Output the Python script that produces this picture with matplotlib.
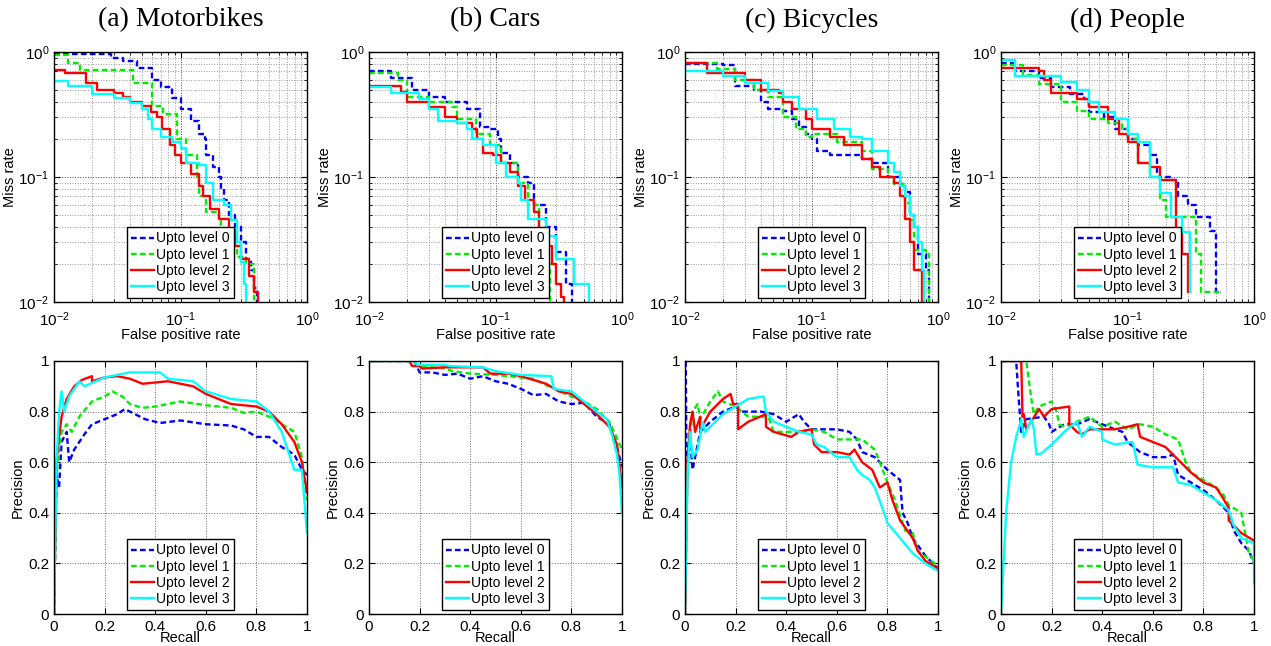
import matplotlib
matplotlib.use("Agg")
import matplotlib.pyplot as plt
from matplotlib.ticker import LogLocator, NullFormatter, FormatStrFormatter, MultipleLocator

plt.rcParams["font.family"] = ["Liberation Sans", "DejaVu Sans"]
plt.rcParams["mathtext.default"] = "regular"
plt.rcParams["axes.unicode_minus"] = False

TITLES = ["(a) Motorbikes", "(b) Cars", "(c) Bicycles", "(d) People"]
LEVELS = ["Upto level 0", "Upto level 1", "Upto level 2", "Upto level 3"]
COLORS = ["#0000ff", "#00ee00", "#ff0000", "#00ffff"]
DASHED = [True, True, False, False]

# DET curves: (false positive rate, miss rate)
mb_det_0 = [(0.01, 0.97), (0.022, 0.96), (0.028, 0.90), (0.035, 0.85), (0.045, 0.75), (0.06, 0.60),
            (0.07, 0.52), (0.085, 0.43), (0.1, 0.35), (0.12, 0.28), (0.14, 0.22), (0.155, 0.20),
            (0.16, 0.15), (0.18, 0.12), (0.2, 0.10), (0.21, 0.08), (0.22, 0.065), (0.24, 0.05),
            (0.27, 0.04), (0.3, 0.03), (0.33, 0.022), (0.36, 0.018), (0.38, 0.013), (0.4, 0.01)]
mb_det_1 = [(0.01, 0.95), (0.013, 0.82), (0.016, 0.72), (0.035, 0.72), (0.042, 0.57), (0.06, 0.37),
            (0.073, 0.32), (0.093, 0.20), (0.11, 0.15), (0.134, 0.10), (0.14, 0.07), (0.16, 0.052),
            (0.2, 0.045), (0.21, 0.028), (0.28, 0.023), (0.33, 0.02), (0.38, 0.01)]
mb_det_2 = [(0.01, 0.72), (0.0122, 0.68), (0.018, 0.57), (0.022, 0.50), (0.03, 0.47), (0.035, 0.44),
            (0.04, 0.40), (0.05, 0.37), (0.058, 0.33), (0.065, 0.30), (0.072, 0.24), (0.083, 0.18),
            (0.09, 0.15), (0.1, 0.13), (0.12, 0.105), (0.14, 0.085), (0.15, 0.07), (0.17, 0.055),
            (0.2, 0.046), (0.24, 0.038), (0.27, 0.028), (0.3, 0.022), (0.35, 0.016), (0.38, 0.012),
            (0.41, 0.01)]
mb_det_3 = [(0.01, 0.59), (0.013, 0.53), (0.02, 0.46), (0.03, 0.43), (0.04, 0.39), (0.05, 0.35),
            (0.055, 0.29), (0.06, 0.24), (0.07, 0.21), (0.085, 0.19), (0.1, 0.17), (0.11, 0.13),
            (0.14, 0.125), (0.16, 0.09), (0.18, 0.065), (0.22, 0.06), (0.25, 0.045), (0.28, 0.03),
            (0.3, 0.021), (0.32, 0.014), (0.33, 0.01)]

car_det_0 = [(0.01, 0.70), (0.015, 0.62), (0.022, 0.50), (0.03, 0.44), (0.04, 0.40), (0.06, 0.35),
             (0.075, 0.25), (0.09, 0.24), (0.105, 0.20), (0.11, 0.155), (0.13, 0.13), (0.15, 0.10),
             (0.18, 0.09), (0.2, 0.06), (0.25, 0.04), (0.3, 0.025), (0.36, 0.014), (0.4, 0.01)]
car_det_1 = [(0.01, 0.68), (0.017, 0.60), (0.02, 0.44), (0.03, 0.40), (0.045, 0.36), (0.05, 0.29),
             (0.07, 0.22), (0.09, 0.18), (0.11, 0.13), (0.15, 0.09), (0.18, 0.06), (0.22, 0.038),
             (0.25, 0.02), (0.27, 0.01)]
car_det_2 = [(0.01, 0.53), (0.018, 0.48), (0.02, 0.40), (0.03, 0.36), (0.04, 0.30), (0.05, 0.27),
             (0.065, 0.24), (0.072, 0.20), (0.08, 0.155), (0.095, 0.15), (0.11, 0.13), (0.13, 0.11),
             (0.15, 0.085), (0.17, 0.065), (0.2, 0.052), (0.22, 0.038), (0.24, 0.028), (0.28, 0.02),
             (0.3, 0.014), (0.33, 0.011), (0.35, 0.01)]
car_det_3 = [(0.01, 0.52), (0.015, 0.47), (0.025, 0.42), (0.03, 0.35), (0.035, 0.28), (0.05, 0.27),
             (0.06, 0.24), (0.065, 0.20), (0.08, 0.18), (0.1, 0.13), (0.12, 0.10), (0.15, 0.09),
             (0.16, 0.065), (0.18, 0.046), (0.25, 0.034), (0.3, 0.022), (0.42, 0.014), (0.55, 0.01)]

bic_det_0 = [(0.01, 0.80), (0.02, 0.78), (0.025, 0.53), (0.035, 0.50), (0.04, 0.40), (0.045, 0.35),
             (0.06, 0.34), (0.07, 0.29), (0.08, 0.25), (0.09, 0.22), (0.1, 0.20), (0.11, 0.16),
             (0.14, 0.15), (0.22, 0.15), (0.25, 0.14), (0.3, 0.13), (0.4, 0.10), (0.5, 0.088),
             (0.55, 0.076), (0.6, 0.05), (0.65, 0.04), (0.7, 0.024), (0.8, 0.018), (0.85, 0.01)]
bic_det_1 = [(0.01, 0.82), (0.018, 0.73), (0.025, 0.60), (0.035, 0.50), (0.045, 0.44), (0.06, 0.30),
             (0.075, 0.24), (0.09, 0.21), (0.1, 0.22), (0.14, 0.22), (0.16, 0.19), (0.25, 0.16),
             (0.3, 0.115), (0.4, 0.10), (0.45, 0.088), (0.55, 0.062), (0.6, 0.045), (0.65, 0.026),
             (0.8, 0.024), (0.85, 0.01)]
bic_det_2 = [(0.01, 0.81), (0.015, 0.68), (0.03, 0.60), (0.04, 0.50), (0.055, 0.47), (0.06, 0.40),
             (0.07, 0.35), (0.09, 0.29), (0.1, 0.24), (0.14, 0.21), (0.18, 0.18), (0.25, 0.14),
             (0.3, 0.12), (0.35, 0.10), (0.45, 0.09), (0.5, 0.07), (0.55, 0.046), (0.6, 0.03),
             (0.65, 0.018), (0.75, 0.01)]
bic_det_3 = [(0.01, 0.70), (0.02, 0.64), (0.03, 0.57), (0.045, 0.49), (0.06, 0.44), (0.08, 0.35),
             (0.11, 0.29), (0.15, 0.24), (0.2, 0.21), (0.25, 0.20), (0.3, 0.16), (0.4, 0.13),
             (0.45, 0.11), (0.5, 0.085), (0.55, 0.07), (0.6, 0.05), (0.65, 0.04), (0.7, 0.03),
             (0.75, 0.018), (0.78, 0.01)]

ppl_det_0 = [(0.01, 0.82), (0.013, 0.70), (0.02, 0.62), (0.025, 0.52), (0.035, 0.46), (0.045, 0.42),
             (0.05, 0.33), (0.065, 0.30), (0.08, 0.24), (0.1, 0.20), (0.12, 0.18), (0.15, 0.15),
             (0.17, 0.10), (0.22, 0.095), (0.25, 0.07), (0.3, 0.06), (0.35, 0.048), (0.45, 0.037),
             (0.5, 0.012), (0.55, 0.012)]
ppl_det_1 = [(0.01, 0.78), (0.015, 0.66), (0.02, 0.55), (0.03, 0.40), (0.04, 0.34), (0.05, 0.29),
             (0.07, 0.27), (0.09, 0.24), (0.1, 0.20), (0.12, 0.13), (0.15, 0.10), (0.18, 0.065),
             (0.2, 0.048), (0.3, 0.048), (0.35, 0.024), (0.38, 0.012), (0.55, 0.012)]
ppl_det_2 = [(0.01, 0.75), (0.02, 0.70), (0.022, 0.60), (0.025, 0.47), (0.04, 0.42), (0.05, 0.36),
             (0.07, 0.29), (0.085, 0.22), (0.1, 0.19), (0.12, 0.13), (0.15, 0.12), (0.18, 0.095),
             (0.24, 0.038), (0.27, 0.024), (0.3, 0.012)]
ppl_det_3 = [(0.01, 0.87), (0.013, 0.64), (0.03, 0.58), (0.04, 0.50), (0.05, 0.40), (0.06, 0.33),
             (0.08, 0.29), (0.1, 0.22), (0.12, 0.19), (0.15, 0.10), (0.18, 0.075), (0.22, 0.048),
             (0.27, 0.036), (0.31, 0.012)]

# precision-recall curves: (recall, precision)
mb_pr_0 = [(0, 0), (0.01, 0.55), (0.02, 0.50), (0.03, 0.68), (0.05, 0.72), (0.06, 0.60), (0.08, 0.65),
           (0.1, 0.68), (0.12, 0.71), (0.15, 0.75), (0.2, 0.77), (0.25, 0.79), (0.28, 0.81), (0.32, 0.79),
           (0.36, 0.77), (0.42, 0.755), (0.5, 0.765), (0.6, 0.75), (0.7, 0.745), (0.75, 0.73), (0.8, 0.70),
           (0.85, 0.70), (0.9, 0.66), (0.95, 0.63), (0.98, 0.57), (1.0, 0.55)]
mb_pr_1 = [(0, 0), (0.01, 0.55), (0.02, 0.65), (0.03, 0.72), (0.05, 0.75), (0.07, 0.72), (0.1, 0.78),
           (0.15, 0.84), (0.2, 0.86), (0.23, 0.88), (0.27, 0.86), (0.3, 0.83), (0.35, 0.815), (0.4, 0.82),
           (0.5, 0.84), (0.6, 0.825), (0.7, 0.815), (0.75, 0.795), (0.8, 0.80), (0.85, 0.78), (0.9, 0.75),
           (0.95, 0.72), (0.98, 0.62), (1.0, 0.45)]
mb_pr_2 = [(0, 0), (0.01, 0.60), (0.02, 0.70), (0.03, 0.78), (0.05, 0.85), (0.08, 0.90), (0.11, 0.925),
           (0.15, 0.94), (0.15, 0.92), (0.2, 0.935), (0.25, 0.94), (0.3, 0.93), (0.35, 0.91), (0.45, 0.92),
           (0.55, 0.90), (0.6, 0.87), (0.7, 0.83), (0.8, 0.82), (0.85, 0.80), (0.9, 0.75), (0.95, 0.68),
           (0.98, 0.60), (1.0, 0.48)]
mb_pr_3 = [(0, 0), (0.01, 0.60), (0.02, 0.80), (0.03, 0.88), (0.04, 0.80), (0.06, 0.86), (0.1, 0.92),
           (0.12, 0.90), (0.2, 0.935), (0.3, 0.955), (0.42, 0.955), (0.45, 0.93), (0.55, 0.92),
           (0.6, 0.88), (0.7, 0.85), (0.8, 0.84), (0.85, 0.80), (0.9, 0.72), (0.93, 0.63), (0.95, 0.57),
           (0.98, 0.57), (1.0, 0.32)]

car_pr_0 = [(0, 1.0), (0.18, 1.0), (0.2, 0.955), (0.25, 0.955), (0.3, 0.945), (0.35, 0.95), (0.4, 0.93),
            (0.45, 0.94), (0.5, 0.92), (0.55, 0.91), (0.6, 0.89), (0.65, 0.865), (0.7, 0.87), (0.75, 0.84),
            (0.8, 0.83), (0.85, 0.835), (0.9, 0.78), (0.95, 0.75), (0.98, 0.66), (1.0, 0.58)]
car_pr_1 = [(0, 1.0), (0.17, 1.0), (0.2, 0.98), (0.3, 0.97), (0.33, 0.96), (0.4, 0.95), (0.5, 0.945),
            (0.6, 0.935), (0.65, 0.93), (0.7, 0.905), (0.8, 0.86), (0.85, 0.84), (0.9, 0.81), (0.95, 0.76),
            (1.0, 0.65)]
car_pr_2 = [(0, 1.0), (0.16, 1.0), (0.17, 0.98), (0.2, 0.98), (0.21, 0.97), (0.3, 0.975), (0.45, 0.975),
            (0.48, 0.95), (0.55, 0.95), (0.6, 0.94), (0.7, 0.91), (0.75, 0.88), (0.8, 0.87), (0.85, 0.83),
            (0.9, 0.79), (0.95, 0.74), (0.98, 0.67), (1.0, 0.50)]
car_pr_3 = [(0, 1.0), (0.18, 1.0), (0.19, 0.985), (0.3, 0.985), (0.32, 0.98), (0.45, 0.975), (0.5, 0.96),
            (0.6, 0.945), (0.72, 0.94), (0.73, 0.89), (0.8, 0.88), (0.85, 0.84), (0.9, 0.80), (0.94, 0.77),
            (0.96, 0.71), (0.98, 0.63), (0.99, 0.55), (1.0, 0.40)]

bic_pr_0 = [(0.003, 1.0), (0.006, 0.60), (0.02, 0.70), (0.03, 0.57), (0.04, 0.62), (0.06, 0.72),
            (0.1, 0.76), (0.15, 0.80), (0.2, 0.82), (0.22, 0.80), (0.3, 0.80), (0.35, 0.79), (0.4, 0.76),
            (0.45, 0.79), (0.47, 0.76), (0.5, 0.73), (0.6, 0.73), (0.65, 0.72), (0.68, 0.69), (0.7, 0.64),
            (0.75, 0.62), (0.8, 0.57), (0.85, 0.53), (0.86, 0.40), (0.88, 0.36), (0.9, 0.30),
            (0.95, 0.23), (1.0, 0.18)]
bic_pr_1 = [(0, 0), (0.01, 0.60), (0.03, 0.80), (0.05, 0.83), (0.06, 0.77), (0.1, 0.84), (0.13, 0.88),
            (0.15, 0.84), (0.2, 0.82), (0.25, 0.78), (0.33, 0.78), (0.35, 0.72), (0.45, 0.72), (0.5, 0.73),
            (0.55, 0.72), (0.6, 0.69), (0.7, 0.69), (0.75, 0.65), (0.77, 0.60), (0.8, 0.52), (0.83, 0.45),
            (0.87, 0.33), (0.9, 0.32), (0.92, 0.25), (1.0, 0.19)]
bic_pr_2 = [(0, 0), (0.01, 0.60), (0.02, 0.75), (0.03, 0.80), (0.04, 0.72), (0.06, 0.78), (0.06, 0.73),
            (0.1, 0.80), (0.15, 0.85), (0.18, 0.87), (0.19, 0.83), (0.21, 0.83), (0.21, 0.73), (0.25, 0.76),
            (0.32, 0.79), (0.32, 0.74), (0.35, 0.72), (0.42, 0.70), (0.45, 0.72), (0.5, 0.73), (0.51, 0.67),
            (0.54, 0.64), (0.6, 0.64), (0.65, 0.63), (0.67, 0.65), (0.7, 0.60), (0.74, 0.57), (0.77, 0.50),
            (0.8, 0.52), (0.82, 0.45), (0.85, 0.37), (0.9, 0.30), (0.92, 0.25), (0.95, 0.21), (1.0, 0.18)]
bic_pr_3 = [(0, 0), (0.01, 0.55), (0.02, 0.72), (0.03, 0.62), (0.05, 0.65), (0.07, 0.76), (0.08, 0.72),
            (0.12, 0.76), (0.15, 0.79), (0.2, 0.82), (0.25, 0.85), (0.31, 0.86), (0.32, 0.80), (0.35, 0.76),
            (0.4, 0.74), (0.45, 0.72), (0.5, 0.71), (0.52, 0.67), (0.55, 0.66), (0.6, 0.62), (0.65, 0.62),
            (0.68, 0.57), (0.7, 0.55), (0.73, 0.53), (0.75, 0.50), (0.78, 0.42), (0.8, 0.36), (0.85, 0.30),
            (0.9, 0.24), (0.95, 0.20), (1.0, 0.17)]

ppl_pr_0 = [(0, 1.0), (0.06, 1.0), (0.07, 0.85), (0.08, 0.72), (0.1, 0.77), (0.17, 0.78), (0.19, 0.75),
            (0.2, 0.72), (0.25, 0.75), (0.3, 0.75), (0.35, 0.77), (0.4, 0.75), (0.45, 0.73), (0.48, 0.72),
            (0.5, 0.68), (0.55, 0.64), (0.6, 0.62), (0.65, 0.62), (0.68, 0.63), (0.7, 0.55), (0.75, 0.52),
            (0.8, 0.49), (0.85, 0.45), (0.9, 0.40), (0.92, 0.33), (0.95, 0.28), (0.98, 0.25), (1.0, 0.20)]
ppl_pr_1 = [(0, 1.0), (0.1, 1.0), (0.12, 0.85), (0.13, 0.79), (0.15, 0.82), (0.2, 0.84), (0.22, 0.80),
            (0.23, 0.75), (0.25, 0.74), (0.3, 0.76), (0.35, 0.78), (0.4, 0.74), (0.45, 0.76), (0.5, 0.73),
            (0.55, 0.75), (0.6, 0.74), (0.65, 0.71), (0.7, 0.69), (0.73, 0.60), (0.75, 0.56), (0.8, 0.53),
            (0.85, 0.50), (0.88, 0.47), (0.9, 0.43), (0.95, 0.40), (0.98, 0.24), (1.0, 0.21)]
ppl_pr_2 = [(0, 1.0), (0.08, 1.0), (0.085, 0.78), (0.09, 0.79), (0.1, 0.73), (0.15, 0.81), (0.17, 0.78),
            (0.2, 0.81), (0.27, 0.82), (0.27, 0.75), (0.3, 0.72), (0.32, 0.71), (0.35, 0.73), (0.45, 0.73),
            (0.5, 0.74), (0.54, 0.75), (0.55, 0.70), (0.6, 0.68), (0.65, 0.66), (0.7, 0.61), (0.75, 0.56),
            (0.8, 0.52), (0.85, 0.50), (0.87, 0.47), (0.9, 0.42), (0.9, 0.37), (0.95, 0.32), (1.0, 0.29)]
ppl_pr_3 = [(0, 0), (0.02, 0.40), (0.04, 0.60), (0.06, 0.70), (0.08, 0.77), (0.09, 0.70), (0.12, 0.77),
            (0.13, 0.73), (0.14, 0.63), (0.16, 0.635), (0.2, 0.67), (0.25, 0.72), (0.3, 0.76), (0.32, 0.70),
            (0.35, 0.74), (0.4, 0.72), (0.4, 0.69), (0.45, 0.67), (0.52, 0.68), (0.54, 0.59), (0.6, 0.58),
            (0.68, 0.58), (0.7, 0.52), (0.75, 0.51), (0.8, 0.48), (0.85, 0.45), (0.9, 0.41), (0.92, 0.35),
            (0.95, 0.30), (1.0, 0.28), (1.0, 0.12)]

det_sets = [
    [mb_det_0, mb_det_1, mb_det_2, mb_det_3],
    [car_det_0, car_det_1, car_det_2, car_det_3],
    [bic_det_0, bic_det_1, bic_det_2, bic_det_3],
    [ppl_det_0, ppl_det_1, ppl_det_2, ppl_det_3],
]
pr_sets = [
    [mb_pr_0, mb_pr_1, mb_pr_2, mb_pr_3],
    [car_pr_0, car_pr_1, car_pr_2, car_pr_3],
    [bic_pr_0, bic_pr_1, bic_pr_2, bic_pr_3],
    [ppl_pr_0, ppl_pr_1, ppl_pr_2, ppl_pr_3],
]

W, H = 1271, 646
fig = plt.figure(figsize=(W / 100, H / 100), dpi=100)

col_left = [54, 369, 685, 1001]
ax_w = 253
top_row = (52, 302)
bot_row = (361, 614)


def make_axes(left, rows):
    top, bottom = rows
    return fig.add_axes([left / W, 1 - bottom / H, ax_w / W, (bottom - top) / H])


def style_axes(ax):
    for sp in ax.spines.values():
        sp.set_linewidth(1.0)
        sp.set_color("black")
    ax.tick_params(which="both", direction="in", top=True, right=True, labelsize=11)
    ax.tick_params(which="major", length=4)
    ax.tick_params(which="minor", length=2)


def draw_lines(ax, curves, steps):
    for pts, lab, col, dashed in zip(curves, LEVELS, COLORS, DASHED):
        x = [p[0] for p in pts]
        y = [p[1] for p in pts]
        line, = ax.plot(x, y, color=col, linewidth=1.7, label=lab,
                        drawstyle="steps-post" if steps else "default")
        if dashed:
            line.set_dashes((2.4, 1.4))
    leg = ax.legend(loc="lower center", fontsize=10, frameon=True, fancybox=False,
                    edgecolor="black", framealpha=1, borderpad=0.3, labelspacing=0.15,
                    handlelength=1.7, handletextpad=0.15, borderaxespad=0.3)
    leg.get_frame().set_linewidth(1.0)


for i in range(4):
    # DET plot
    ax = make_axes(col_left[i], top_row)
    ax.set_xscale("log")
    ax.set_yscale("log")
    ax.set_xlim(1e-2, 1)
    ax.set_ylim(1e-2, 1)
    ax.xaxis.set_major_locator(LogLocator(base=10, numticks=5))
    ax.yaxis.set_major_locator(LogLocator(base=10, numticks=5))
    ax.xaxis.set_minor_locator(LogLocator(base=10, subs=range(2, 10), numticks=20))
    ax.yaxis.set_minor_locator(LogLocator(base=10, subs=range(2, 10), numticks=20))
    ax.xaxis.set_minor_formatter(NullFormatter())
    ax.yaxis.set_minor_formatter(NullFormatter())
    ax.grid(True, which="major", linestyle=":", color="0.25", linewidth=0.7)
    ax.grid(True, which="minor", linestyle=":", color="0.6", linewidth=0.7)
    style_axes(ax)
    ax.tick_params(axis="x", which="major", pad=6)
    draw_lines(ax, det_sets[i], steps=True)
    ax.set_xlabel("False positive rate", fontsize=10.5, labelpad=-1)
    ax.set_ylabel("Miss rate", fontsize=10.5, labelpad=1)
    fig.text((col_left[i] + ax_w / 2) / W, 1 - 20 / H, TITLES[i], ha="center", va="center",
             fontsize=20, family=["Liberation Serif", "DejaVu Serif"])

    # precision-recall plot
    ax = make_axes(col_left[i], bot_row)
    ax.set_xlim(0, 1)
    ax.set_ylim(0, 1)
    ax.xaxis.set_major_locator(MultipleLocator(0.2))
    ax.yaxis.set_major_locator(MultipleLocator(0.2))
    ax.xaxis.set_major_formatter(FormatStrFormatter("%g"))
    ax.yaxis.set_major_formatter(FormatStrFormatter("%g"))
    ax.grid(True, which="major", linestyle=":", color="0.4", linewidth=0.7)
    style_axes(ax)
    ax.tick_params(axis="x", which="major", pad=4)
    draw_lines(ax, pr_sets[i], steps=False)
    ax.set_xlabel("Recall", fontsize=10.5, labelpad=-2)
    ax.set_ylabel("Precision", fontsize=10.5, labelpad=2)

fig.savefig("out.png", dpi=100)
